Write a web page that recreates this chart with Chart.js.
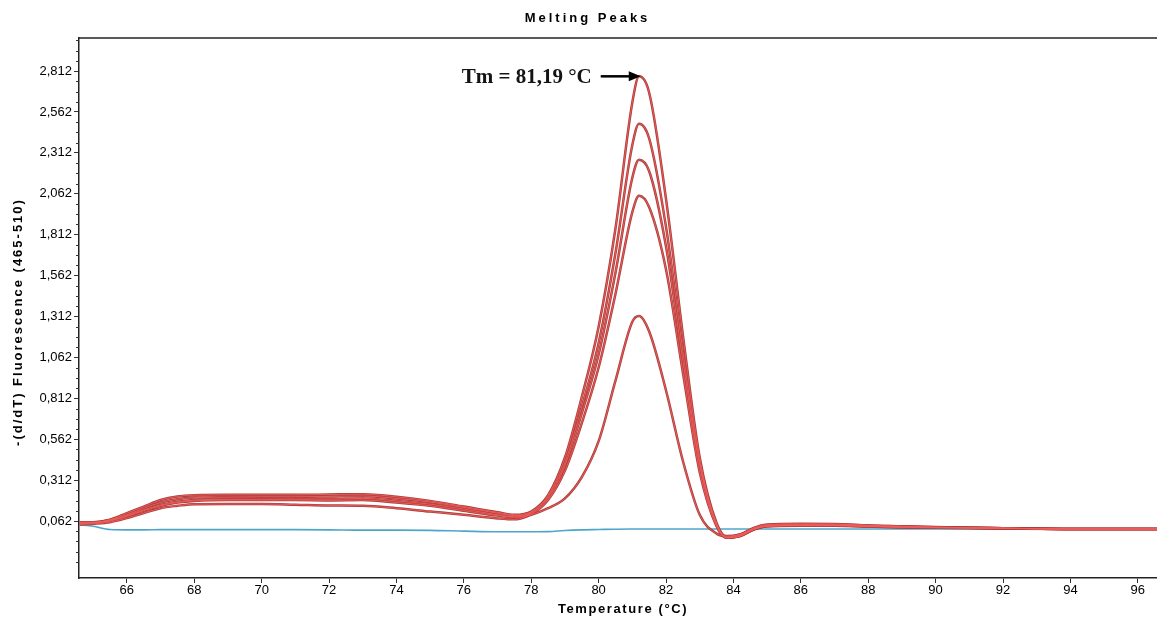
<!DOCTYPE html>
<html>
<head>
<meta charset="utf-8">
<title>Melting Peaks</title>
<script src="https://cdn.jsdelivr.net/npm/chart.js@4.4.1/dist/chart.umd.min.js"></script>
<style>
  html, body { margin: 0; padding: 0; background: #fff; }
  canvas { display: block; }
</style>
</head>
<body>
<canvas id="chart" width="1157" height="620"></canvas>
<script>
// temperatures (°C) shared by every trace
const temps = [64.6, 65.0, 65.5, 66.0, 66.5, 67.0, 67.5, 68.0, 69.0, 70.0, 71.0, 72.0, 73.0, 74.0, 75.0, 76.0, 77.0, 77.5,
  78.0, 78.5, 79.0, 79.5, 80.0, 80.5, 81.0, 81.2, 81.5, 82.0, 82.5, 83.0, 83.5, 83.8, 84.2, 84.6, 85.0,
  86.0, 87.0, 88.0, 89.0, 90.0, 91.0, 92.0, 94.0, 96.6];

// -(d/dT) fluorescence of the samples
const sampleA = [0.050, 0.052, 0.070, 0.110, 0.150, 0.190, 0.212, 0.220, 0.222, 0.222, 0.222, 0.224, 0.226, 0.210, 0.185, 0.150, 0.115, 0.100,
  0.120, 0.220, 0.450, 0.820, 1.250, 1.850, 2.620, 2.780, 2.680, 2.030, 1.200, 0.450, 0.050, -0.035, -0.020, 0.020, 0.040,
  0.045, 0.044, 0.035, 0.030, 0.025, 0.020, 0.018, 0.013, 0.013];
const sampleB = [0.055, 0.055, 0.068, 0.100, 0.140, 0.175, 0.195, 0.205, 0.208, 0.210, 0.210, 0.212, 0.215, 0.200, 0.178, 0.145, 0.110, 0.095,
  0.115, 0.210, 0.420, 0.760, 1.150, 1.700, 2.360, 2.490, 2.400, 1.860, 1.100, 0.420, 0.040, -0.040, -0.025, 0.015, 0.035,
  0.040, 0.040, 0.035, 0.028, 0.024, 0.020, 0.018, 0.013, 0.013];
const sampleC = [0.050, 0.050, 0.065, 0.095, 0.130, 0.160, 0.180, 0.190, 0.195, 0.195, 0.196, 0.196, 0.200, 0.185, 0.165, 0.135, 0.100, 0.088,
  0.110, 0.200, 0.400, 0.720, 1.080, 1.580, 2.160, 2.270, 2.200, 1.740, 1.040, 0.400, 0.035, -0.040, -0.030, 0.010, 0.032,
  0.035, 0.035, 0.030, 0.025, 0.022, 0.020, 0.018, 0.013, 0.013];
const sampleD = [0.048, 0.050, 0.062, 0.090, 0.125, 0.155, 0.175, 0.185, 0.190, 0.190, 0.190, 0.188, 0.190, 0.175, 0.155, 0.125, 0.095, 0.085,
  0.105, 0.190, 0.370, 0.660, 1.000, 1.450, 1.950, 2.050, 1.980, 1.600, 0.970, 0.360, 0.030, -0.040, -0.030, 0.010, 0.030,
  0.033, 0.033, 0.028, 0.022, 0.020, 0.018, 0.016, 0.013, 0.013];
const sampleE = [0.040, 0.045, 0.055, 0.080, 0.110, 0.140, 0.155, 0.165, 0.166, 0.166, 0.162, 0.157, 0.155, 0.140, 0.120, 0.100, 0.078, 0.072,
  0.100, 0.140, 0.200, 0.330, 0.550, 0.920, 1.280, 1.315, 1.220, 0.860, 0.430, 0.100, -0.015, -0.030, -0.020, 0.012, 0.030,
  0.035, 0.035, 0.030, 0.026, 0.022, 0.020, 0.018, 0.013, 0.013];
// negative control
const blank = [0.040, 0.030, 0.010, 0.008, 0.008, 0.009, 0.009, 0.009, 0.009, 0.009, 0.009, 0.008, 0.006, 0.006, 0.005, 0.000, -0.004, -0.004,
  -0.004, -0.003, 0.004, 0.008, 0.010, 0.012, 0.013, 0.013, 0.013, 0.013, 0.013, 0.013, 0.013, 0.013, 0.013, 0.013, 0.013,
  0.013, 0.013, 0.013, 0.013, 0.013, 0.013, 0.013, 0.013, 0.013];

const samples = [sampleA, sampleB, sampleC, sampleD, sampleE];

const xTicks = [66, 68, 70, 72, 74, 76, 78, 80, 82, 84, 86, 88, 90, 92, 94, 96];
const yTicks = [0.062, 0.312, 0.562, 0.812, 1.062, 1.312, 1.562, 1.812, 2.062, 2.312, 2.562, 2.812];
const yMinorStep = 0.0625;

const tmValue = 81.19;
const tmPeak = 2.78;
const tmLabel = 'Tm = 81,19 °C';

const sansFamily = "'Liberation Sans', Arial, sans-serif";
const tickFont = { family: sansFamily, size: 13 };

function pts(values) {
  return values.map((v, i) => ({ x: temps[i], y: v }));
}

// each sample trace: dark red edge with a lighter red core
const datasets = [];
samples.forEach((s) => {
  datasets.push({ data: pts(s), borderColor: '#f25c5c', borderWidth: 0.9, order: 10 });
  datasets.push({ data: pts(s), borderColor: '#a93e3a', borderWidth: 2.5, order: 50 });
});
datasets.push({ data: pts(blank), borderColor: '#4da6c9', borderWidth: 1.6, order: 100 });

function spacedText(ctx, text, px, py, font, spacing) {
  ctx.font = font;
  ctx.letterSpacing = spacing;
  ctx.textAlign = 'center';
  ctx.textBaseline = 'middle';
  ctx.fillText(text, px, py);
}

const decor = {
  id: 'decor',
  afterDraw(chart) {
    const { ctx, chartArea } = chart;
    const x = chart.scales.x;
    const y = chart.scales.y;
    ctx.save();

    // frame top line
    ctx.strokeStyle = '#222';
    ctx.lineWidth = 1.5;
    ctx.beginPath();
    ctx.moveTo(chartArea.left, chartArea.top);
    ctx.lineTo(chartArea.right, chartArea.top);
    ctx.stroke();

    // minor y ticks
    ctx.lineWidth = 1;
    ctx.strokeStyle = '#333';
    for (let v = yTicks[0] - 4 * yMinorStep; v < y.max; v += yMinorStep) {
      const isMajor = yTicks.some(t => Math.abs(t - v) < 1e-6);
      if (isMajor || v < y.min) continue;
      const py = Math.round(y.getPixelForValue(v)) + 0.5;
      ctx.beginPath();
      ctx.moveTo(chartArea.left - 3, py);
      ctx.lineTo(chartArea.left, py);
      ctx.stroke();
    }

    // Tm annotation
    const tipX = x.getPixelForValue(tmValue) + 2;
    const tipY = y.getPixelForValue(tmPeak);
    ctx.strokeStyle = '#000';
    ctx.fillStyle = '#000';
    ctx.lineWidth = 2.5;
    ctx.beginPath();
    ctx.moveTo(tipX - 40, tipY);
    ctx.lineTo(tipX - 9, tipY);
    ctx.stroke();
    ctx.beginPath();
    ctx.moveTo(tipX, tipY);
    ctx.lineTo(tipX - 12, tipY - 5);
    ctx.lineTo(tipX - 12, tipY + 5);
    ctx.closePath();
    ctx.fill();
    ctx.font = "bold 21px 'Liberation Serif', 'Times New Roman', serif";
    ctx.textAlign = 'right';
    ctx.textBaseline = 'middle';
    ctx.fillStyle = '#141414';
    ctx.fillText(tmLabel, tipX - 49, tipY + 1);

    // titles (letter-spaced like the instrument software)
    ctx.fillStyle = '#000';
    spacedText(ctx, 'Melting Peaks', chart.width / 2 + 9, 18, 'bold 13px ' + sansFamily, '3px');
    spacedText(ctx, 'Temperature (°C)', (chartArea.left + chartArea.right) / 2 + 5, 609, 'bold 13px ' + sansFamily, '1.6px');
    ctx.save();
    ctx.translate(18, (chartArea.top + chartArea.bottom) / 2 + 14);
    ctx.rotate(-Math.PI / 2);
    spacedText(ctx, '-(d/dT) Fluorescence (465-510)', 0, 0, 'bold 13px ' + sansFamily, '2px');
    ctx.restore();

    ctx.restore();
  }
};

new Chart(document.getElementById('chart'), {
  type: 'line',
  data: { datasets },
  options: {
    responsive: false,
    animation: false,
    layout: { padding: { top: 38, right: 0, left: 0, bottom: 0 } },
    elements: {
      point: { radius: 0 },
      line: { cubicInterpolationMode: 'monotone', fill: false }
    },
    plugins: {
      legend: { display: false },
      title: { display: false },
      tooltip: { enabled: false }
    },
    scales: {
      x: {
        type: 'linear',
        min: 64.58,
        max: 96.57,
        afterBuildTicks: (scale) => { scale.ticks = xTicks.map(v => ({ value: v })); },
        afterFit: (scale) => { scale.height = 42; },
        border: { display: true, color: '#222', width: 1.5 },
        grid: { drawOnChartArea: false, tickLength: 5, color: '#333' },
        ticks: { color: '#000', font: tickFont, padding: 0, maxRotation: 0, autoSkip: false, callback: (v) => String(v) },
        title: { display: false }
      },
      y: {
        min: -0.2864,
        max: 3.0143,
        afterBuildTicks: (scale) => { scale.ticks = yTicks.map(v => ({ value: v })); },
        afterFit: (scale) => { scale.width = 79; },
        border: { display: true, color: '#222', width: 1.5 },
        grid: { drawOnChartArea: false, tickLength: 5, color: '#333' },
        ticks: {
          color: '#000', font: tickFont, padding: 2, autoSkip: false,
          callback: (v) => v.toFixed(3).replace('.', ',')
        },
        title: { display: false }
      }
    }
  },
  plugins: [decor]
});
</script>
</body>
</html>
